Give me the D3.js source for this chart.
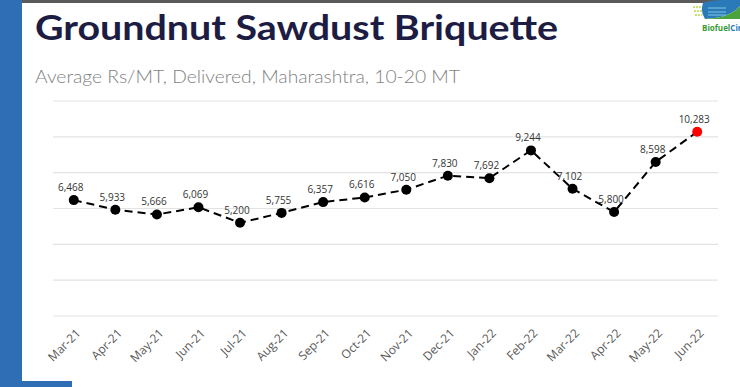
<!DOCTYPE html>
<html>
<head>
<meta charset="utf-8">
<script src="https://cdn.jsdelivr.net/npm/d3@7"></script>
<style>
  body { margin: 0; background: #fff; }
  #chart { width: 740px; height: 387px; }
</style>
</head>
<body>
<div id="chart"></div>
<script>
var months = ["Mar-21","Apr-21","May-21","Jun-21","Jul-21","Aug-21","Sep-21","Oct-21",
              "Nov-21","Dec-21","Jan-22","Feb-22","Mar-22","Apr-22","May-22","Jun-22"];
var prices = [6468, 5933, 5666, 6069, 5200, 5755, 6357, 6616,
              7050, 7830, 7692, 9244, 7102, 5800, 8598, 10283];
var gridTicks = [0, 2000, 4000, 6000, 8000, 10000, 12000];

var W = 740, H = 387;
var plot = {left: 53, right: 718, top: 101, bottom: 316};

var svg = d3.select("#chart").append("svg")
    .attr("width", W)
    .attr("height", H);

// slide frame
svg.append("rect").attr("x", 0).attr("y", 0).attr("width", W).attr("height", 3).attr("fill", "#5a5a5a");
svg.append("rect").attr("x", 0).attr("y", 0).attr("width", 22).attr("height", 387).attr("fill", "#2f6eb5");
svg.append("rect").attr("x", 0).attr("y", 381).attr("width", 72).attr("height", 6).attr("fill", "#2f6eb5");

svg.append("text")
    .attr("x", 35).attr("y", 40)
    .style("font", "bold 35px Lato, sans-serif")
    .attr("fill", "#1d1d44")
    .attr("textLength", 523).attr("lengthAdjust", "spacingAndGlyphs")
    .text("Groundnut Sawdust Briquette");

svg.append("text")
    .attr("x", 35).attr("y", 83)
    .style("font", "300 17px Lato, sans-serif")
    .attr("fill", "#7f7f7f")
    .attr("textLength", 425).attr("lengthAdjust", "spacingAndGlyphs")
    .text("Average Rs/MT, Delivered, Maharashtra, 10-20 MT");

// logo (cut at right edge like the slide)
var logo = svg.append("g");
[7, 11, 15].forEach(function(y, i) {
  logo.append("line").attr("x1", 693 + i).attr("x2", 702).attr("y1", y).attr("y2", y)
      .attr("stroke", "#b7d94a").attr("stroke-width", 1.5).attr("stroke-dasharray", "2,1");
});
logo.append("path")
    .attr("d", "M703,3 Q712,-1 740,0 L740,6 Q730,18 705,19 Q700,12 703,3 Z")
    .attr("fill", "#2a79b8");
logo.append("path")
    .attr("d", "M705,19 Q730,18 740,6 L740,19 Z")
    .attr("fill", "#4aa33d");
[8, 12, 15].forEach(function(y) {
  logo.append("line").attr("x1", 708).attr("x2", 726).attr("y1", y).attr("y2", y)
      .attr("stroke", "#7ec8e3").attr("stroke-width", 1);
});
var lt = logo.append("text").attr("x", 702).attr("y", 31)
    .style("font", "bold 8px 'Open Sans', sans-serif");
lt.append("tspan").attr("fill", "#3a9a3a").text("Biofuel");
lt.append("tspan").attr("fill", "#2a79b8").text("Cir");

// scales
var x = d3.scalePoint().domain(months).range([plot.left, plot.right]).padding(0.5);
var y = d3.scaleLinear().domain([0, 12000]).range([plot.bottom, plot.top]);

var g = svg.append("g");

g.selectAll(".grid")
    .data(gridTicks)
    .enter().append("line")
    .attr("class", "grid")
    .attr("x1", plot.left).attr("x2", plot.right)
    .attr("y1", function(d) { return y(d); })
    .attr("y2", function(d) { return y(d); })
    .attr("stroke", "#e3e3e3").attr("stroke-width", 1.2);

var xAxis = g.append("g")
    .attr("transform", "translate(0," + plot.bottom + ")")
    .call(d3.axisBottom(x).tickSize(0).tickPadding(0));
xAxis.select(".domain").remove();
xAxis.selectAll("text")
    .attr("transform", "translate(4,15) rotate(-45)")
    .attr("text-anchor", "end")
    .attr("dy", "0.35em")
    .attr("y", 0)
    .style("font", "12px 'Open Sans', sans-serif")
    .attr("fill", "#595959");

var line = d3.line()
    .x(function(d, i) { return x(months[i]); })
    .y(function(d) { return y(d); });

g.append("path")
    .datum(prices)
    .attr("d", line)
    .attr("fill", "none")
    .attr("stroke", "#000")
    .attr("stroke-width", 2)
    .attr("stroke-dasharray", "8,5");

g.selectAll(".dot")
    .data(prices)
    .enter().append("circle")
    .attr("class", "dot")
    .attr("cx", function(d, i) { return x(months[i]); })
    .attr("cy", function(d) { return y(d); })
    .attr("r", 5)
    .attr("fill", function(d, i) { return i == prices.length - 1 ? "#ff0000" : "#000"; });

g.selectAll(".lbl")
    .data(prices)
    .enter().append("text")
    .attr("class", "lbl")
    .attr("x", function(d, i) { return x(months[i]) - 3; })
    .attr("y", function(d) { return y(d) - 9; })
    .attr("text-anchor", "middle")
    .style("font", "10px 'Open Sans', sans-serif")
    .attr("fill", "#333")
    .text(d3.format(","));
</script>
</body>
</html>
